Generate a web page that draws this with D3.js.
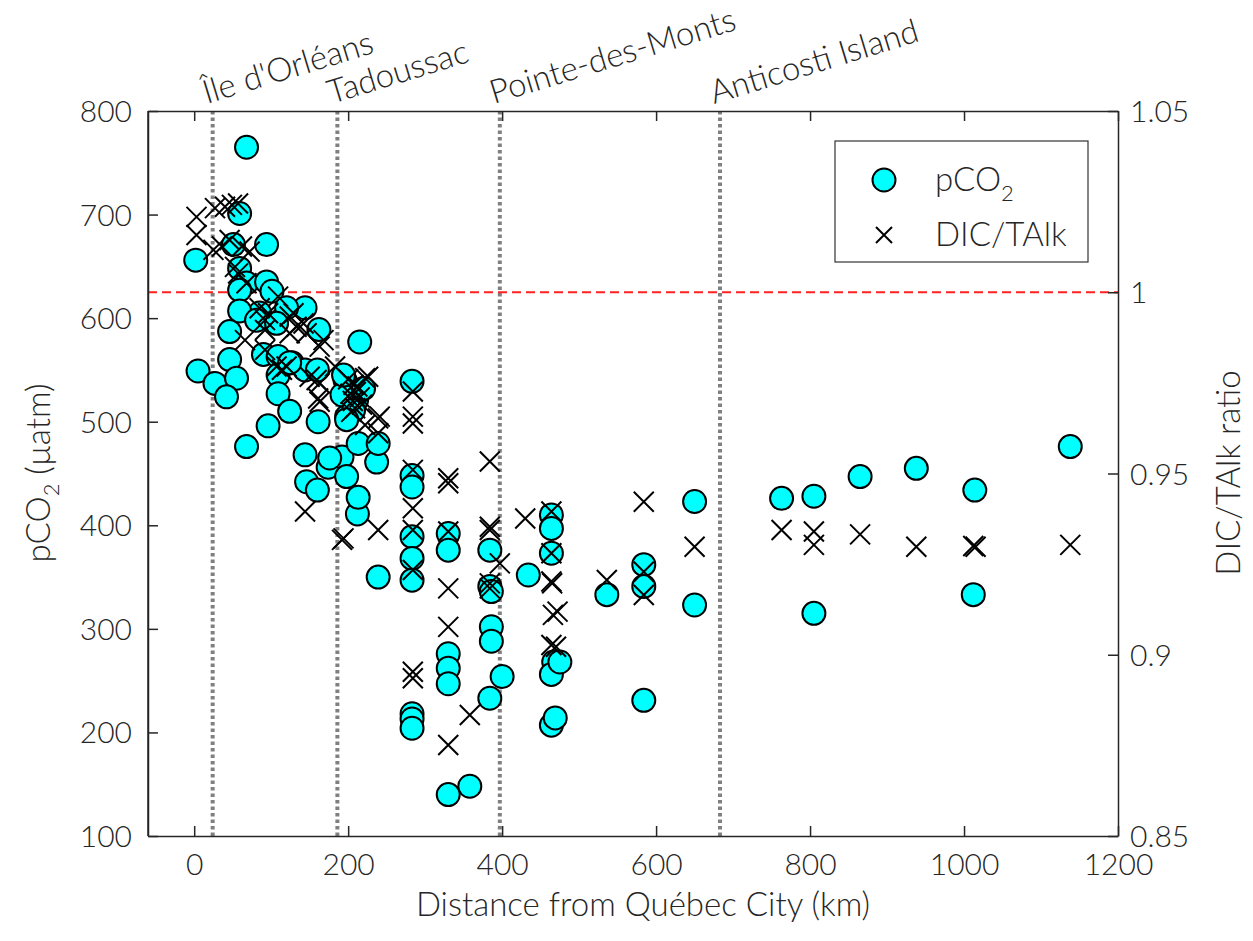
<!DOCTYPE html>
<html><head><meta charset="utf-8">
<script src="https://cdn.jsdelivr.net/npm/d3@7"></script>
<style>
body{margin:0;background:#fff;}
text{font-family:Lato,"Noto Sans",sans-serif;font-weight:300;fill:#262626;}
</style></head>
<body><svg id="chart" width="1253" height="941"></svg>
<script>
// ---- data ----
const pco2Km = [68,59,2,94,51,59,68,59,94,101,85,144,120,46,59,81,107,162,
  5,27,46,55,42,90,109,127,109,144,160,109,124,96,68,144,146,160,161,174,192,198,124,
  196,215,211,198,192,207,198,194,220,213,237,239,176,212,213,215,
  239,283,283,283,283,283,283,283,283,283,
  330,330,330,330,330,330,358,
  384,384,386,386,386,400,384,
  434,464,464,464,467,464,464,469,475,
  536,584,584,584,650,650,763,805,805,865,938,1014,1012,1138];
const pco2Val = [765,701,656,671,671,648,634,627,635,626,605,610,610,587,607,598,595,589,
  549,537,560,542,524,565,563,557,545,550,550,527,510,496,476,468,442,434,500,456,466,447,557,
  540,530,521,505,526,511,502,545,532,479,461,479,465,411,427,577,
  350,539,448,437,389,368,347,218,213,204,
  392,376,276,262,247,140,148,
  376,341,336,302,288,254,233,
  352,410,397,373,268,256,207,214,268,
  333,362,341,231,423,323,426,428,315,447,455,434,333,476];

const ratioKm = [3,3,27,40,57,49,25,36,46,62,72,53,57,68,85,92,109,96,129,142,92,66,168,92,107,120,
  124,133,146,163,114,150,161,159,144,192,183,124,163,163,222,239,239,222,194,239,
  200,203,206,209,212,215,204,210,218,207,226,241,
  284,284,284,284,284,284,284,284,284,
  330,330,330,330,330,330,358,
  384,384,384,384,384,397,430,
  464,464,464,465,466,472,464,470,
  536,584,584,584,650,763,805,805,865,938,1012,1015,1138];
const ratioVal = [1.0208,1.0158,1.0232,1.0236,1.0245,1.0241,1.0117,1.0126,1.0144,1.0126,1.0112,1.007,1.0052,1.0025,0.9956,0.9923,0.9988,0.9942,0.9942,0.9914,0.9896,0.9868,0.9868,0.9841,0.9795,0.9795,
  0.9933,0.9905,0.9887,0.985,0.9786,0.9767,0.9707,0.9758,0.9395,0.9317,0.9795,0.9887,0.9698,0.9749,0.9763,0.9652,0.9611,0.9634,0.9321,0.9344,
  0.976,0.972,0.970,0.968,0.974,0.971,0.967,0.9725,0.969,0.9745,0.9767,0.9657,
  0.9726,0.9657,0.9638,0.951,0.9404,0.9344,0.9234,0.8953,0.8935,
  0.9487,0.9473,0.934,0.9183,0.9077,0.8751,0.8834,
  0.9533,0.9353,0.9344,0.9197,0.9183,0.9252,0.9376,
  0.9395,0.928,0.9202,0.9197,0.911,0.9119,0.9027,0.9022,
  0.9206,0.9422,0.9229,0.9165,0.9298,0.9344,0.934,0.9303,0.9332,0.9298,0.93,0.9298,0.9303];

const xTicks = [0,200,400,600,800,1000,1200];
const yTicks = [100,200,300,400,500,600,700,800];
const y2Ticks = [0.85,0.9,0.95,1,1.05];
const y2TickLabels = ["0.85","0.9","0.95","1","1.05"];
const siteNames = ["Île d'Orléans","Tadoussac","Pointe-des-Monts","Anticosti Island"];
const siteKm = [24,186,397,683];
const refRatio = 1.0;

// ---- layout ----
const L=148, R=1118, T=111, B=836;
const svg = d3.select("#chart");
const x = d3.scaleLinear().domain([-60,1200]).range([L,R]);
const y = d3.scaleLinear().domain([100,800]).range([B,T]);
const y2 = d3.scaleLinear().domain([0.85,1.05]).range([B,T]);
const axisCol = "#262626";
const fs = 30, fsT = 33;

// vertical site lines
svg.append("g").selectAll("line").data(siteKm).join("line")
  .attr("x1",d=>x(d)).attr("x2",d=>x(d)).attr("y1",T).attr("y2",B)
  .attr("stroke","#808080").attr("stroke-width",4).attr("stroke-dasharray","3.5,3");

// red reference line
svg.append("line").attr("x1",L).attr("x2",R).attr("y1",y2(refRatio)).attr("y2",y2(refRatio))
  .attr("stroke","#ff2020").attr("stroke-width",1.8).attr("stroke-dasharray","9,5");

// points
const pts = pco2Km.map((k,i)=>({k,v:pco2Val[i]}));
svg.append("g").selectAll("circle").data(pts).join("circle")
  .attr("cx",d=>x(d.k)).attr("cy",d=>y(d.v)).attr("r",11.5)
  .attr("fill","#00ffff").attr("stroke","#000").attr("stroke-width",2);

const xs = ratioKm.map((k,i)=>({k,v:ratioVal[i]}));
const s = 10;
svg.append("g").selectAll("path").data(xs).join("path")
  .attr("d",d=>{const cx=x(d.k), cy=y2(d.v);return `M${cx-s},${cy-s}L${cx+s},${cy+s}M${cx-s},${cy+s}L${cx+s},${cy-s}`;})
  .attr("stroke","#000").attr("stroke-width",2).attr("fill","none");

// axes (box)
const tl = 10;
const gx = svg.append("g").attr("transform",`translate(0,${B})`)
  .call(d3.axisBottom(x).tickValues(xTicks).tickFormat(d3.format("d")).tickSizeInner(-tl).tickSizeOuter(0).tickPadding(18));
const gxt = svg.append("g").attr("transform",`translate(0,${T})`)
  .call(d3.axisTop(x).tickValues(xTicks).tickSizeInner(-tl).tickSizeOuter(0).tickFormat(""));
const gy = svg.append("g").attr("transform",`translate(${L},0)`)
  .call(d3.axisLeft(y).tickValues(yTicks).tickSizeInner(-tl).tickSizeOuter(0).tickPadding(16));
const gy2 = svg.append("g").attr("transform",`translate(${R},0)`)
  .call(d3.axisRight(y2).tickValues(y2Ticks).tickFormat((d,i)=>y2TickLabels[i]).tickSizeInner(-tl).tickSizeOuter(0).tickPadding(12));
[gx,gxt,gy,gy2].forEach(g=>{
  g.selectAll(".domain").attr("stroke",axisCol).attr("stroke-width",1.5);
  g.selectAll(".tick line").attr("stroke",axisCol).attr("stroke-width",1.5);
  g.selectAll("text").attr("font-size",fs).attr("fill",axisCol).style("font-family","Lato, sans-serif").style("font-weight",300);
});
gy.selectAll("text").attr("dy","0.35em");
gy2.selectAll("text").attr("dy","0.35em");
svg.append("line").attr("x1",L).attr("x2",L).attr("y1",T).attr("y2",B).attr("stroke",axisCol).attr("stroke-width",1.5);

// axis titles
svg.append("text").attr("x",(L+R)/2+10).attr("y",916).attr("text-anchor","middle")
  .attr("font-size",fsT).text("Distance from Québec City (km)");
const yl = svg.append("text").attr("transform",`translate(50,473) rotate(-90)`).attr("text-anchor","middle").attr("font-size",fsT);
yl.append("tspan").text("pCO");
yl.append("tspan").attr("font-size",22).attr("dy",9).text("2");
yl.append("tspan").attr("dy",-9).text(" (µatm)");
svg.append("text").attr("transform",`translate(1240,473) rotate(-90)`).attr("text-anchor","middle")
  .attr("font-size",fsT).text("DIC/TAlk ratio");

// site labels
svg.append("g").selectAll("text").data(siteNames).join("text")
  .attr("transform",(d,i)=>`translate(${x(siteKm[i])-6},${104}) rotate(-17)`)
  .attr("font-size",fsT).text(d=>d);

// legend
const lg = svg.append("g");
lg.append("rect").attr("x",835).attr("y",141).attr("width",253).attr("height",121)
  .attr("fill","#fff").attr("stroke","#333").attr("stroke-width",1.2);
lg.append("circle").attr("cx",884).attr("cy",180).attr("r",11.5).attr("fill","#00ffff").attr("stroke","#000").attr("stroke-width",2);
lg.append("path").attr("d",`M${884-8},${235-8}L${884+8},${235+8}M${884-8},${235+8}L${884+8},${235-8}`).attr("stroke","#000").attr("stroke-width",2);
const t1 = lg.append("text").attr("x",935).attr("y",191).attr("font-size",fsT);
t1.append("tspan").text("pCO");
t1.append("tspan").attr("font-size",22).attr("dy",10).text("2");
lg.append("text").attr("x",935).attr("y",246).attr("font-size",fsT).text("DIC/TAlk");
</script></body></html>
